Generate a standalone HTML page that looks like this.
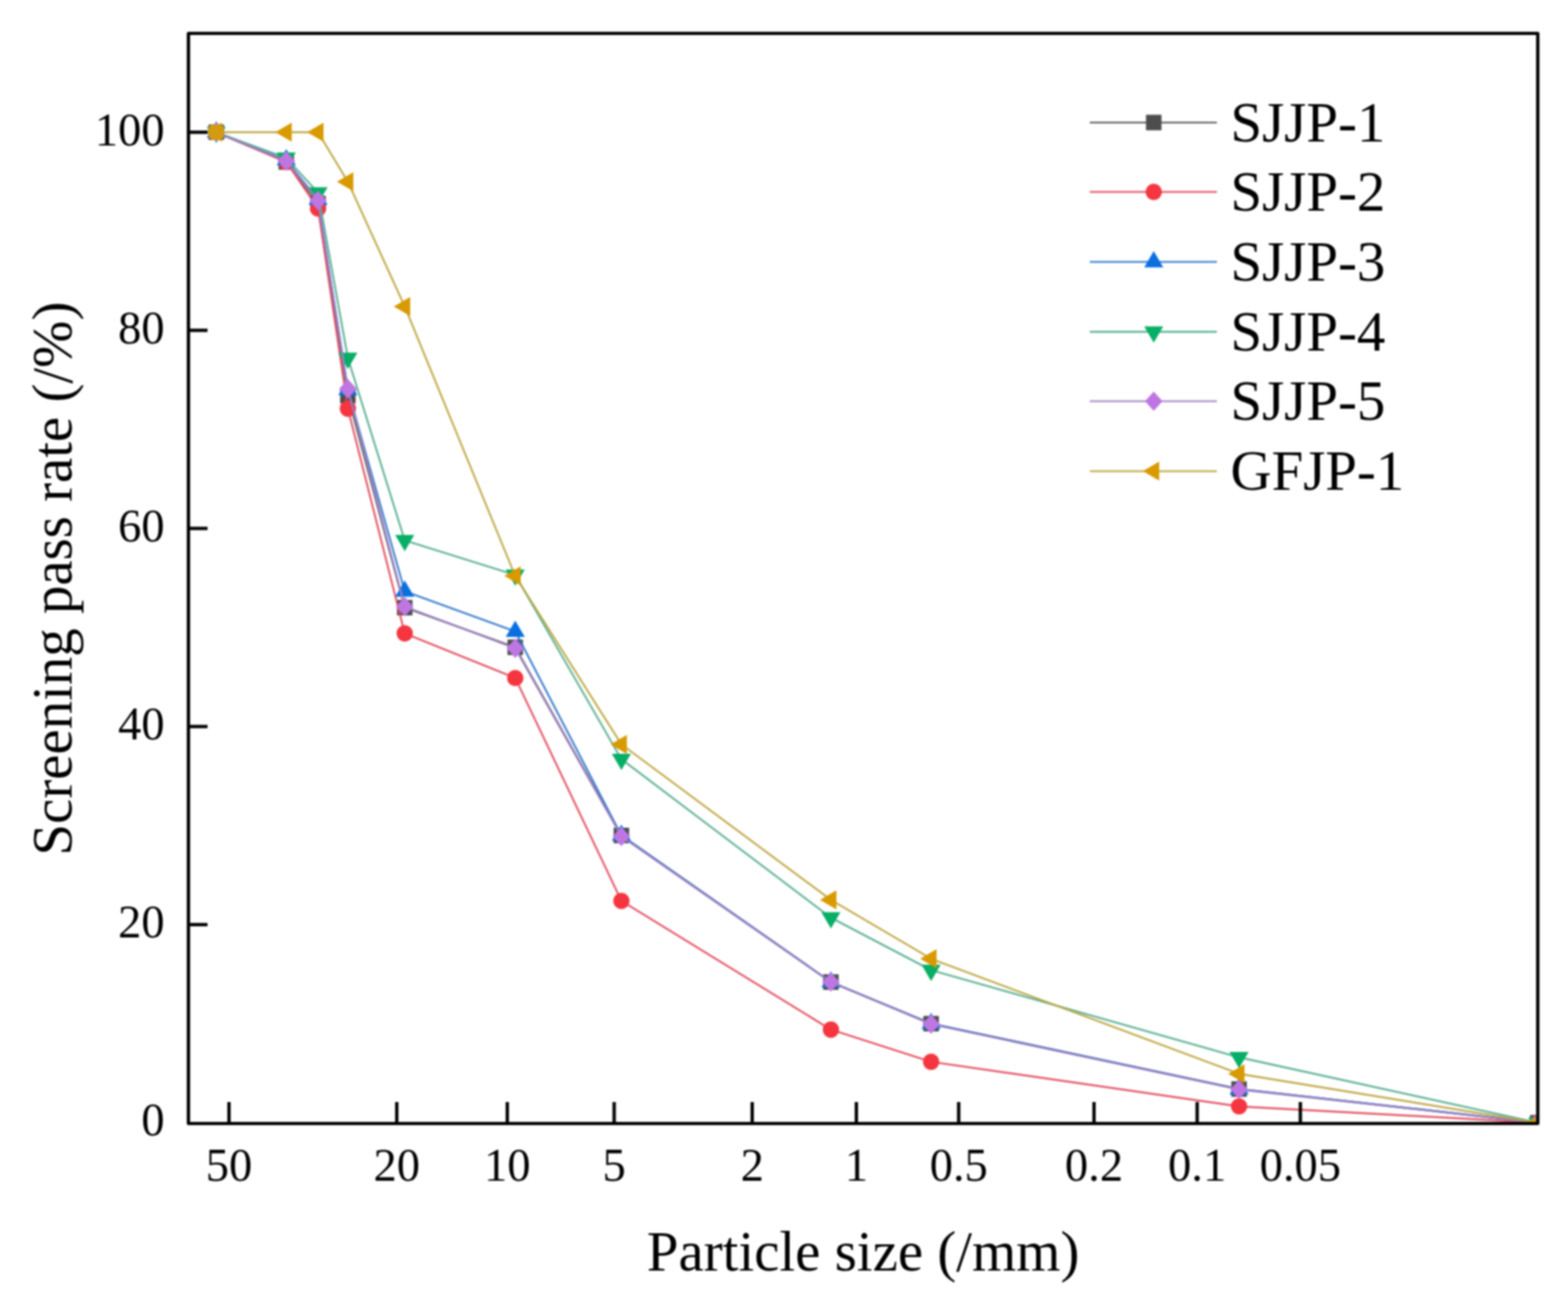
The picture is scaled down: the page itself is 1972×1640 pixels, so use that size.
<!DOCTYPE html>
<html><head><meta charset="utf-8"><title>Screening pass rate chart</title>
<style>
html,body{margin:0;padding:0;background:#fff;}
body{width:1972px;height:1640px;overflow:hidden;}
svg{display:block;}
#wrap{filter:blur(1px);width:1972px;height:1640px;}
text{font-family:"Liberation Serif","Times New Roman",serif;fill:#000;}
</style></head><body>
<div id="wrap">
<svg width="1972" height="1640" viewBox="0 0 1972 1640">
<rect x="0" y="0" width="1972" height="1640" fill="#fff"/>
<defs><clipPath id="pc"><rect x="237" y="42" width="1697" height="1371"/></clipPath></defs>

<g clip-path="url(#pc)">
<polyline points="272.00,166.30 360.00,203.67 400.00,255.99 437.50,497.66 509.00,764.24 648.00,814.06 781.50,1050.75 1045.00,1235.11 1171.00,1287.43 1558.30,1369.65 1934.00,1412.00" fill="none" stroke="#5A5A5A" stroke-width="2.4" stroke-opacity="0.92" stroke-linejoin="round"/>
<rect x="262.25" y="156.55" width="19.5" height="19.5" fill="#4D4D4D"/>
<rect x="350.25" y="193.92" width="19.5" height="19.5" fill="#4D4D4D"/>
<rect x="390.25" y="246.24" width="19.5" height="19.5" fill="#4D4D4D"/>
<rect x="427.75" y="487.91" width="19.5" height="19.5" fill="#4D4D4D"/>
<rect x="499.25" y="754.49" width="19.5" height="19.5" fill="#4D4D4D"/>
<rect x="638.25" y="804.31" width="19.5" height="19.5" fill="#4D4D4D"/>
<rect x="771.75" y="1041.00" width="19.5" height="19.5" fill="#4D4D4D"/>
<rect x="1035.25" y="1225.36" width="19.5" height="19.5" fill="#4D4D4D"/>
<rect x="1161.25" y="1277.68" width="19.5" height="19.5" fill="#4D4D4D"/>
<rect x="1548.55" y="1359.90" width="19.5" height="19.5" fill="#4D4D4D"/>
<rect x="1924.25" y="1402.25" width="19.5" height="19.5" fill="#4D4D4D"/>
<polyline points="272.00,166.30 360.00,203.67 400.00,262.22 437.50,513.85 509.00,796.62 648.00,852.68 781.50,1132.96 1045.00,1294.90 1171.00,1335.39 1558.30,1391.45 1934.00,1412.00" fill="none" stroke="#E4485A" stroke-width="2.4" stroke-opacity="0.92" stroke-linejoin="round"/>
<circle cx="272.00" cy="166.30" r="10.3" fill="#F5353F"/>
<circle cx="360.00" cy="203.67" r="10.3" fill="#F5353F"/>
<circle cx="400.00" cy="262.22" r="10.3" fill="#F5353F"/>
<circle cx="437.50" cy="513.85" r="10.3" fill="#F5353F"/>
<circle cx="509.00" cy="796.62" r="10.3" fill="#F5353F"/>
<circle cx="648.00" cy="852.68" r="10.3" fill="#F5353F"/>
<circle cx="781.50" cy="1132.96" r="10.3" fill="#F5353F"/>
<circle cx="1045.00" cy="1294.90" r="10.3" fill="#F5353F"/>
<circle cx="1171.00" cy="1335.39" r="10.3" fill="#F5353F"/>
<circle cx="1558.30" cy="1391.45" r="10.3" fill="#F5353F"/>
<circle cx="1934.00" cy="1412.00" r="10.3" fill="#F5353F"/>
<polyline points="272.00,166.30 360.00,201.18 400.00,251.01 437.50,490.18 509.00,743.68 648.00,794.13 781.50,1050.75 1045.00,1235.11 1171.00,1287.43 1558.30,1369.65 1934.00,1412.00" fill="none" stroke="#3076CC" stroke-width="2.4" stroke-opacity="0.92" stroke-linejoin="round"/>
<polygon points="272.00,152.57 284.00,173.17 260.00,173.17" fill="#0A70E0"/>
<polygon points="360.00,187.45 372.00,208.05 348.00,208.05" fill="#0A70E0"/>
<polygon points="400.00,237.27 412.00,257.87 388.00,257.87" fill="#0A70E0"/>
<polygon points="437.50,476.45 449.50,497.05 425.50,497.05" fill="#0A70E0"/>
<polygon points="509.00,729.95 521.00,750.55 497.00,750.55" fill="#0A70E0"/>
<polygon points="648.00,780.40 660.00,801.00 636.00,801.00" fill="#0A70E0"/>
<polygon points="781.50,1037.01 793.50,1057.61 769.50,1057.61" fill="#0A70E0"/>
<polygon points="1045.00,1221.38 1057.00,1241.98 1033.00,1241.98" fill="#0A70E0"/>
<polygon points="1171.00,1273.70 1183.00,1294.30 1159.00,1294.30" fill="#0A70E0"/>
<polygon points="1558.30,1355.91 1570.30,1376.51 1546.30,1376.51" fill="#0A70E0"/>
<polygon points="1934.00,1398.27 1946.00,1418.87 1922.00,1418.87" fill="#0A70E0"/>
<polyline points="272.00,166.30 360.00,198.69 400.00,242.29 437.50,450.32 509.00,679.53 648.00,723.13 781.50,954.83 1045.00,1154.14 1171.00,1220.16 1558.30,1329.78 1934.00,1412.00" fill="none" stroke="#55AD90" stroke-width="2.4" stroke-opacity="0.92" stroke-linejoin="round"/>
<polygon points="272.00,180.03 284.00,159.43 260.00,159.43" fill="#07AE66"/>
<polygon points="360.00,212.42 372.00,191.82 348.00,191.82" fill="#07AE66"/>
<polygon points="400.00,256.02 412.00,235.42 388.00,235.42" fill="#07AE66"/>
<polygon points="437.50,464.05 449.50,443.45 425.50,443.45" fill="#07AE66"/>
<polygon points="509.00,693.26 521.00,672.66 497.00,672.66" fill="#07AE66"/>
<polygon points="648.00,736.86 660.00,716.26 636.00,716.26" fill="#07AE66"/>
<polygon points="781.50,968.56 793.50,947.96 769.50,947.96" fill="#07AE66"/>
<polygon points="1045.00,1167.87 1057.00,1147.27 1033.00,1147.27" fill="#07AE66"/>
<polygon points="1171.00,1233.90 1183.00,1213.30 1159.00,1213.30" fill="#07AE66"/>
<polygon points="1558.30,1343.52 1570.30,1322.92 1546.30,1322.92" fill="#07AE66"/>
<polygon points="1934.00,1425.73 1946.00,1405.13 1922.00,1405.13" fill="#07AE66"/>
<polyline points="272.00,166.30 360.00,202.43 400.00,252.25 437.50,488.94 509.00,762.99 648.00,815.31 781.50,1051.99 1045.00,1235.11 1171.00,1288.05 1558.30,1370.27 1934.00,1412.00" fill="none" stroke="#A082C4" stroke-width="2.4" stroke-opacity="0.92" stroke-linejoin="round"/>
<polygon points="272.00,154.10 283.00,166.30 272.00,178.50 261.00,166.30" fill="#BE76E2"/>
<polygon points="360.00,190.23 371.00,202.43 360.00,214.63 349.00,202.43" fill="#BE76E2"/>
<polygon points="400.00,240.05 411.00,252.25 400.00,264.45 389.00,252.25" fill="#BE76E2"/>
<polygon points="437.50,476.74 448.50,488.94 437.50,501.14 426.50,488.94" fill="#BE76E2"/>
<polygon points="509.00,750.79 520.00,762.99 509.00,775.19 498.00,762.99" fill="#BE76E2"/>
<polygon points="648.00,803.11 659.00,815.31 648.00,827.51 637.00,815.31" fill="#BE76E2"/>
<polygon points="781.50,1039.79 792.50,1051.99 781.50,1064.19 770.50,1051.99" fill="#BE76E2"/>
<polygon points="1045.00,1222.91 1056.00,1235.11 1045.00,1247.31 1034.00,1235.11" fill="#BE76E2"/>
<polygon points="1171.00,1275.85 1182.00,1288.05 1171.00,1300.25 1160.00,1288.05" fill="#BE76E2"/>
<polygon points="1558.30,1358.07 1569.30,1370.27 1558.30,1382.47 1547.30,1370.27" fill="#BE76E2"/>
<polygon points="1934.00,1399.80 1945.00,1412.00 1934.00,1424.20 1923.00,1412.00" fill="#BE76E2"/>
<polyline points="272.00,166.30 360.00,166.30 400.00,166.30 437.50,228.59 509.00,385.54 648.00,724.37 781.50,936.14 1045.00,1131.72 1171.00,1205.84 1558.30,1350.46 1934.00,1412.00" fill="none" stroke="#BCA43C" stroke-width="2.4" stroke-opacity="0.92" stroke-linejoin="round"/>
<polygon points="258.27,166.30 278.87,154.30 278.87,178.30" fill="#D89A00"/>
<polygon points="346.27,166.30 366.87,154.30 366.87,178.30" fill="#D89A00"/>
<polygon points="386.27,166.30 406.87,154.30 406.87,178.30" fill="#D89A00"/>
<polygon points="423.77,228.59 444.37,216.59 444.37,240.59" fill="#D89A00"/>
<polygon points="495.27,385.54 515.87,373.54 515.87,397.54" fill="#D89A00"/>
<polygon points="634.27,724.37 654.87,712.37 654.87,736.37" fill="#D89A00"/>
<polygon points="767.77,936.14 788.37,924.14 788.37,948.14" fill="#D89A00"/>
<polygon points="1031.27,1131.72 1051.87,1119.72 1051.87,1143.72" fill="#D89A00"/>
<polygon points="1157.27,1205.84 1177.87,1193.84 1177.87,1217.84" fill="#D89A00"/>
<polygon points="1544.57,1350.46 1565.17,1338.46 1565.17,1362.46" fill="#D89A00"/>
<polygon points="1920.27,1412.00 1940.87,1400.00 1940.87,1424.00" fill="#D89A00"/>
<rect x="262.50" y="156.80" width="19" height="19" rx="5" fill="#D49A10"/>
</g>
<rect x="237" y="42" width="1697" height="1371" fill="none" stroke="#000" stroke-width="4.2" stroke-linejoin="round"/>
<text x="207" y="1428.20" font-size="58.5" text-anchor="end">0</text>
<line x1="237" y1="1162.86" x2="261" y2="1162.86" stroke="#000" stroke-width="4.2"/>
<text x="207" y="1179.06" font-size="58.5" text-anchor="end">20</text>
<line x1="237" y1="913.72" x2="261" y2="913.72" stroke="#000" stroke-width="4.2"/>
<text x="207" y="929.92" font-size="58.5" text-anchor="end">40</text>
<line x1="237" y1="664.58" x2="261" y2="664.58" stroke="#000" stroke-width="4.2"/>
<text x="207" y="680.78" font-size="58.5" text-anchor="end">60</text>
<line x1="237" y1="415.44" x2="261" y2="415.44" stroke="#000" stroke-width="4.2"/>
<text x="207" y="431.64" font-size="58.5" text-anchor="end">80</text>
<line x1="237" y1="166.30" x2="261" y2="166.30" stroke="#000" stroke-width="4.2"/>
<text x="207" y="182.50" font-size="58.5" text-anchor="end">100</text>
<line x1="288" y1="1413" x2="288" y2="1386" stroke="#000" stroke-width="4.2"/>
<text x="288" y="1485.2" font-size="58.5" text-anchor="middle">50</text>
<line x1="499" y1="1413" x2="499" y2="1386" stroke="#000" stroke-width="4.2"/>
<text x="499" y="1485.2" font-size="58.5" text-anchor="middle">20</text>
<line x1="638" y1="1413" x2="638" y2="1386" stroke="#000" stroke-width="4.2"/>
<text x="638" y="1485.2" font-size="58.5" text-anchor="middle">10</text>
<line x1="772.4" y1="1413" x2="772.4" y2="1386" stroke="#000" stroke-width="4.2"/>
<text x="772.4" y="1485.2" font-size="58.5" text-anchor="middle">5</text>
<line x1="946" y1="1413" x2="946" y2="1386" stroke="#000" stroke-width="4.2"/>
<text x="946" y="1485.2" font-size="58.5" text-anchor="middle">2</text>
<line x1="1077" y1="1413" x2="1077" y2="1386" stroke="#000" stroke-width="4.2"/>
<text x="1077" y="1485.2" font-size="58.5" text-anchor="middle">1</text>
<line x1="1205.7" y1="1413" x2="1205.7" y2="1386" stroke="#000" stroke-width="4.2"/>
<text x="1205.7" y="1485.2" font-size="58.5" text-anchor="middle">0.5</text>
<line x1="1375.9" y1="1413" x2="1375.9" y2="1386" stroke="#000" stroke-width="4.2"/>
<text x="1375.9" y="1485.2" font-size="58.5" text-anchor="middle">0.2</text>
<line x1="1505.6" y1="1413" x2="1505.6" y2="1386" stroke="#000" stroke-width="4.2"/>
<text x="1505.6" y="1485.2" font-size="58.5" text-anchor="middle">0.1</text>
<line x1="1635.4" y1="1413" x2="1635.4" y2="1386" stroke="#000" stroke-width="4.2"/>
<text x="1635.4" y="1485.2" font-size="58.5" text-anchor="middle">0.05</text>
<text x="1085.5" y="1598.2" font-size="71.5" text-anchor="middle">Particle size (/mm)</text>
<text transform="translate(89.7,727.7) rotate(-90)" x="0" y="0" font-size="71.5" text-anchor="middle">Screening pass rate (/%)</text>
<line x1="1370.6" y1="154.1" x2="1530.4" y2="154.1" stroke="#5A5A5A" stroke-width="2.4" stroke-opacity="0.92"/>
<rect x="1441.25" y="144.35" width="19.5" height="19.5" fill="#4D4D4D"/>
<text x="1547.5" y="177.90" font-size="71.5">SJJP-1</text>
<line x1="1370.6" y1="241.4" x2="1530.4" y2="241.4" stroke="#E4485A" stroke-width="2.4" stroke-opacity="0.92"/>
<circle cx="1451.00" cy="241.40" r="10.3" fill="#F5353F"/>
<text x="1547.5" y="265.20" font-size="71.5">SJJP-2</text>
<line x1="1370.6" y1="329.4" x2="1530.4" y2="329.4" stroke="#3076CC" stroke-width="2.4" stroke-opacity="0.92"/>
<polygon points="1451.00,315.67 1463.00,336.27 1439.00,336.27" fill="#0A70E0"/>
<text x="1547.5" y="353.20" font-size="71.5">SJJP-3</text>
<line x1="1370.6" y1="417.3" x2="1530.4" y2="417.3" stroke="#55AD90" stroke-width="2.4" stroke-opacity="0.92"/>
<polygon points="1451.00,431.03 1463.00,410.43 1439.00,410.43" fill="#07AE66"/>
<text x="1547.5" y="441.10" font-size="71.5">SJJP-4</text>
<line x1="1370.6" y1="504.6" x2="1530.4" y2="504.6" stroke="#A082C4" stroke-width="2.4" stroke-opacity="0.92"/>
<polygon points="1451.00,492.40 1462.00,504.60 1451.00,516.80 1440.00,504.60" fill="#BE76E2"/>
<text x="1547.5" y="528.40" font-size="71.5">SJJP-5</text>
<line x1="1370.6" y1="592.6" x2="1530.4" y2="592.6" stroke="#BCA43C" stroke-width="2.4" stroke-opacity="0.92"/>
<polygon points="1437.27,592.60 1457.87,580.60 1457.87,604.60" fill="#D89A00"/>
<text x="1547.5" y="616.40" font-size="71.5">GFJP-1</text>
</svg>
</div>
</body></html>
